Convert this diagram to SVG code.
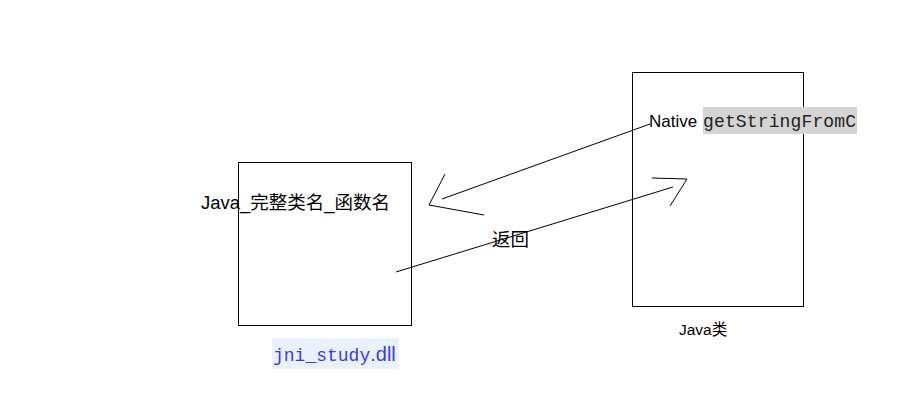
<svg xmlns="http://www.w3.org/2000/svg" width="899" height="401" viewBox="0 0 899 401">
<style>
.box{fill:none;stroke:#000;stroke-width:1}
.ln{fill:none;stroke:#000;stroke-width:1}
.t{font-family:"Liberation Sans","Noto Sans CJK SC",sans-serif;font-size:16px;fill:#000}
.m{font-family:"Liberation Mono",monospace;font-size:18px}
</style>
<rect width="899" height="401" fill="#fff"/>
<g id="dll-node">
<rect class="box" x="238.5" y="162.5" width="173" height="163"/>
<text class="t" x="201" y="209" style="font-size:18px" textLength="189" lengthAdjust="spacingAndGlyphs">Java_完整类名_函数名</text>
</g>
<g id="java-node">
<rect class="box" x="632.5" y="72.5" width="171" height="234"/>
<rect x="703" y="107" width="154" height="27" fill="#d4d4d4"/>
<text class="t" x="649" y="127" style="font-size:17px">Native</text>
<text class="m" x="703" y="127" fill="#222" textLength="153">getStringFromC</text>
</g>
<g id="dll-label">
<rect x="272" y="338" width="127" height="31" fill="#eaf1fb"/>
<text x="273" y="361" fill="#3a3af0"><tspan class="m">jni_study</tspan><tspan font-family="Liberation Sans,sans-serif" font-size="20px">.dll</tspan></text>
</g>
<g id="java-label">
<text class="t" x="679" y="335" style="font-size:15.5px">Java类</text>
</g>
<g id="connectors">
<path class="ln" d="M650,124 L442,199"/>
<path class="ln" d="M445,174 L429,205 L484,215"/>
<path class="ln" d="M396,272 L673,187"/>
<path class="ln" d="M652,178 L687,179 L670,206"/>
<text class="t" x="492" y="246" style="font-size:18.5px">返回</text>
</g>
</svg>
